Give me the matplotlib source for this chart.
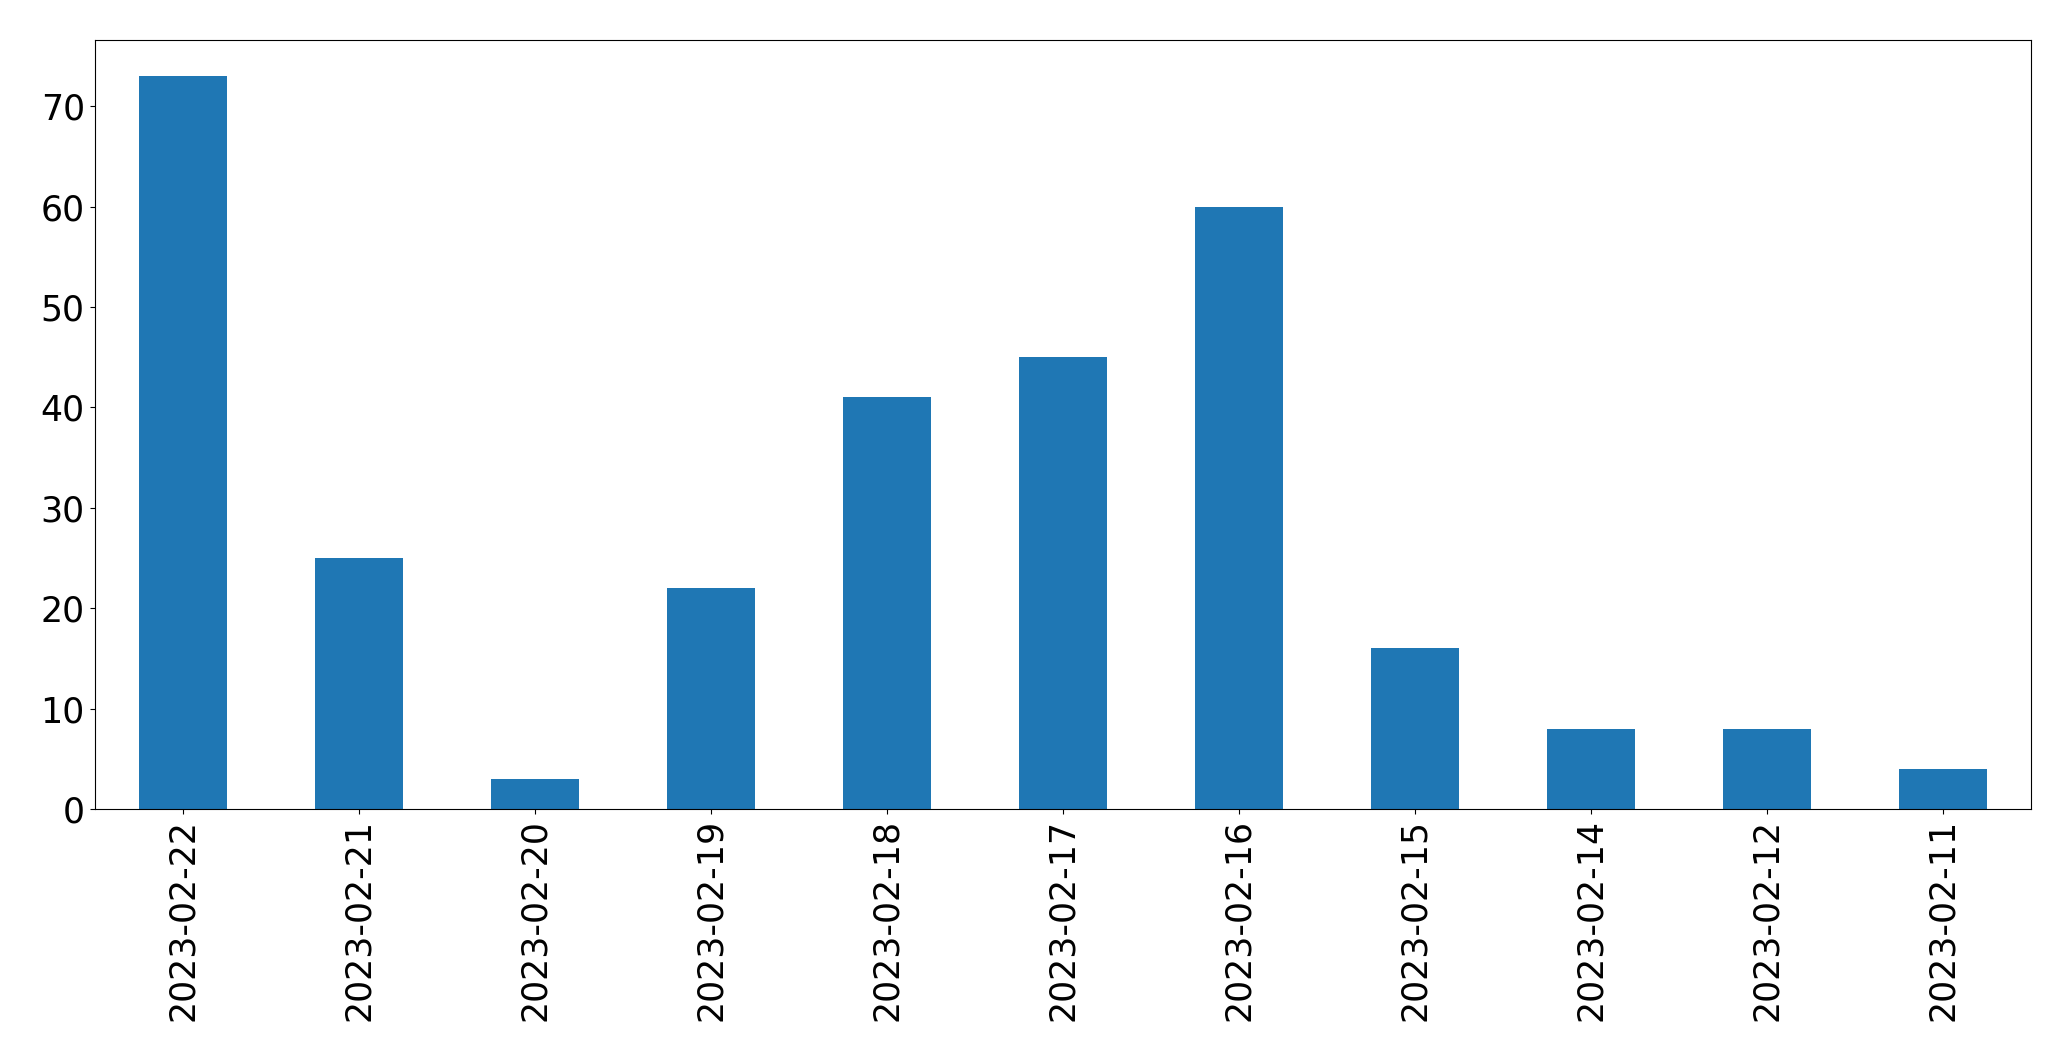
import matplotlib
matplotlib.use("Agg")
import matplotlib.pyplot as plt
import numpy as np

dates = ["2023-02-22", "2023-02-21", "2023-02-20", "2023-02-19", "2023-02-18",
         "2023-02-17", "2023-02-16", "2023-02-15", "2023-02-14", "2023-02-12",
         "2023-02-11"]
counts = [73, 25, 3, 22, 41, 45, 60, 16, 8, 8, 4]

W, H = 2071, 1061
fig = plt.figure(figsize=(W / 100, H / 100), dpi=100)
left, right, top, bottom = 94.5, 2031, 39.5, 809
ax = fig.add_axes([left / W, 1 - bottom / H, (right - left) / W, (bottom - top) / H])

x = np.arange(len(dates))
ax.bar(x, counts, width=0.5, color="#1f77b4")
ax.set_xlim(-0.5, len(dates) - 0.5)
ax.set_ylim(0, max(counts) * 1.05)
ax.set_xticks(x)
ax.set_xticklabels(dates, rotation=90)
ax.tick_params(labelsize=25)

fig.savefig("out.png", dpi=100)
